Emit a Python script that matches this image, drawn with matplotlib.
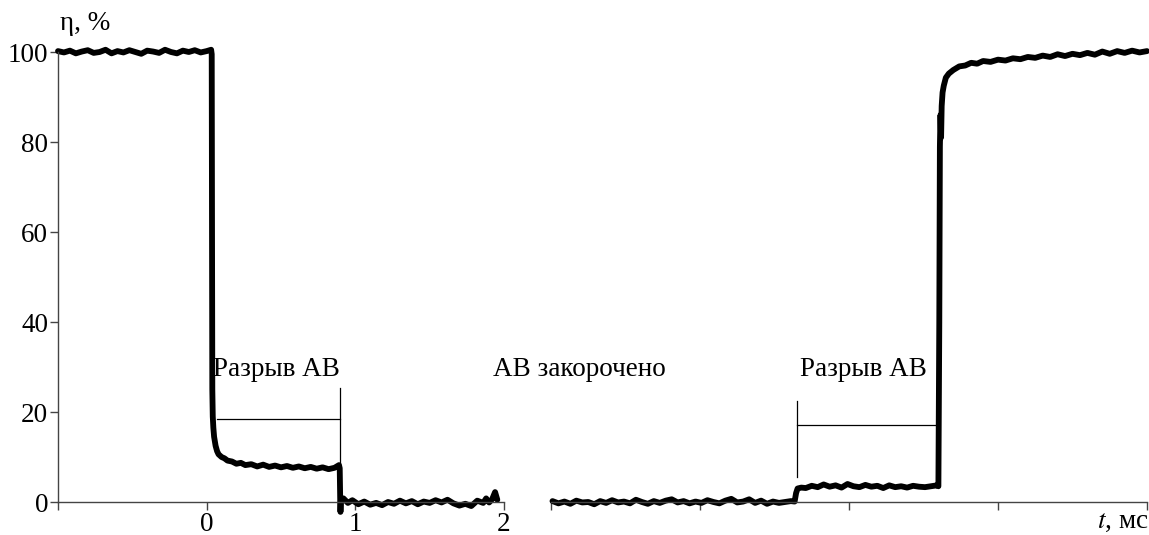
import matplotlib.pyplot as plt

plt.rcParams['font.family'] = ['Liberation Serif', 'DejaVu Serif']

# left part of the record, t in ms
t_left = [-1.00, -0.96, -0.92, -0.88, -0.84, -0.80, -0.76, -0.72, -0.68, -0.64,
          -0.60, -0.56, -0.52, -0.48, -0.44, -0.40, -0.36, -0.32, -0.28, -0.24,
          -0.20, -0.16, -0.12, -0.08, -0.04, 0.00, 0.03, 0.034, 0.036, 0.038,
          0.041, 0.045, 0.05, 0.06, 0.07, 0.08, 0.10, 0.12, 0.14, 0.17,
          0.20, 0.23, 0.26, 0.30, 0.34, 0.38, 0.42, 0.46, 0.50, 0.54,
          0.58, 0.62, 0.66, 0.70, 0.74, 0.78, 0.82, 0.86, 0.89, 0.895,
          0.898, 0.90, 0.903, 0.92, 0.95, 0.98, 1.02, 1.06, 1.10, 1.14,
          1.18, 1.22, 1.26, 1.30, 1.34, 1.38, 1.42, 1.46, 1.50, 1.54,
          1.58, 1.62, 1.66, 1.70, 1.74, 1.78, 1.82, 1.86, 1.88, 1.90,
          1.92, 1.94, 1.955]
eta_left = [100.2, 99.9, 100.3, 99.7, 100.1, 100.4, 99.8, 100.0, 100.5, 99.7,
            100.2, 99.9, 100.4, 100.0, 99.6, 100.3, 100.1, 99.8, 100.5, 100.0,
            99.7, 100.3, 100.0, 100.4, 99.9, 100.2, 100.5, 99.5, 60.0, 25.0,
            19.0, 16.5, 14.5, 12.5, 11.3, 10.6, 10.0, 9.7, 9.2, 9.0,
            8.5, 8.7, 8.2, 8.4, 7.9, 8.3, 7.8, 8.1, 7.7, 8.0,
            7.6, 7.9, 7.5, 7.8, 7.4, 7.7, 7.3, 7.6, 8.2, 7.5,
            1.0, -2.2, 0.5, 0.8, -0.2, 0.4, -0.5, 0.1, -0.6, -0.2,
            -0.7, 0.0, -0.4, 0.3, -0.3, 0.2, -0.5, 0.1, -0.2, 0.4,
            -0.1, 0.5, -0.3, -0.8, -0.4, -0.9, 0.3, -0.2, 0.8, -0.1,
            0.6, 2.2, 0.5]

# right part of the record (after the axis break), local units
t_right = [0.01, 0.05, 0.09, 0.13, 0.17, 0.21, 0.25, 0.29, 0.33, 0.37,
           0.41, 0.45, 0.49, 0.53, 0.57, 0.61, 0.65, 0.69, 0.73, 0.77,
           0.81, 0.85, 0.89, 0.93, 0.97, 1.01, 1.05, 1.09, 1.13, 1.17,
           1.21, 1.25, 1.29, 1.33, 1.37, 1.41, 1.45, 1.49, 1.53, 1.57,
           1.61, 1.635, 1.645, 1.655, 1.68, 1.71, 1.75, 1.79, 1.83, 1.87,
           1.91, 1.95, 1.99, 2.03, 2.07, 2.11, 2.15, 2.19, 2.23, 2.27,
           2.31, 2.35, 2.39, 2.43, 2.47, 2.51, 2.55, 2.59, 2.600, 2.606,
           2.610, 2.614, 2.618, 2.622, 2.628, 2.636, 2.65, 2.67, 2.70, 2.74,
           2.78, 2.82, 2.86, 2.90, 2.95, 3.00, 3.05, 3.10, 3.15, 3.20,
           3.25, 3.30, 3.35, 3.40, 3.45, 3.50, 3.55, 3.60, 3.65, 3.70,
           3.75, 3.80, 3.85, 3.90, 3.95, 4.00]
eta_right = [0.2, -0.3, 0.1, -0.4, 0.3, -0.1, 0.0, -0.5, 0.2, -0.2,
             0.4, -0.1, 0.1, -0.3, 0.5, 0.0, -0.4, 0.2, -0.2, 0.3,
             0.6, -0.1, 0.2, -0.3, 0.1, -0.2, 0.4, 0.0, -0.3, 0.3,
             0.7, -0.1, 0.1, 0.6, -0.2, 0.3, -0.4, 0.1, -0.2, 0.0,
             0.2, 0.1, 2.0, 3.0, 3.2, 3.1, 3.6, 3.3, 3.9, 3.4,
             3.7, 3.2, 4.0, 3.5, 3.3, 3.8, 3.4, 3.6, 3.1, 3.7,
             3.3, 3.5, 3.2, 3.6, 3.4, 3.3, 3.5, 3.7, 3.5, 40.0,
             79.0, 86.0, 81.0, 88.0, 91.0, 92.5, 94.3, 95.2, 96.0, 96.8,
             97.0, 97.6, 97.4, 98.0, 97.8, 98.3, 98.1, 98.6, 98.4, 98.9,
             98.7, 99.2, 98.9, 99.5, 99.1, 99.6, 99.3, 99.8, 99.4, 100.1,
             99.6, 100.2, 99.8, 100.3, 99.9, 100.2]

yticks = [0, 20, 40, 60, 80, 100]
left_xticks = [-1, 0, 1, 2]
left_xlabels = ['', '0', '1', '2']
right_xticks = [0, 1, 2, 3, 4]

fs = 19.5
W, H = 1149, 535
fig = plt.figure(figsize=(W / 100, H / 100), dpi=100)
ax1 = fig.add_axes([58 / W, 33 / H, 446 / W, 450 / H])
ax2 = fig.add_axes([551 / W, 33 / H, 596 / W, 450 / H])

spine_col = '#444444'
for ax in (ax1, ax2):
    ax.set_ylim(0, 100)
    for s in ('top', 'right'):
        ax.spines[s].set_visible(False)
    for s in ('left', 'bottom'):
        ax.spines[s].set_color(spine_col)
        ax.spines[s].set_linewidth(1.0)
    ax.tick_params(direction='out', length=6, width=1.0, color=spine_col,
                   labelsize=fs, pad=1)
    ax.patch.set_visible(False)

ax1.set_xlim(-1, 2)
ax1.set_xticks(left_xticks)
ax1.set_xticklabels(left_xlabels)
ax1.set_yticks(yticks)
ax1.plot(t_left, eta_left, color='black', lw=4.2, clip_on=False,
         solid_joinstyle='round', solid_capstyle='round')

ax2.set_xlim(0, 4)
ax2.set_xticks(right_xticks)
ax2.set_xticklabels([])
ax2.spines['left'].set_visible(False)
ax2.tick_params(axis='y', left=False, labelleft=False)
ax2.plot(t_right, eta_right, color='black', lw=4.2, clip_on=False,
         solid_joinstyle='round', solid_capstyle='round')

# annotations
ax1.text(0.04, 29.5, 'Разрыв АВ', fontsize=fs, ha='left', va='center')
ax1.plot([0.07, 0.897], [18.4, 18.4], color='black', lw=0.9)
ax1.plot([0.897, 0.897], [25.3, 8.0], color='black', lw=0.9)
ax1.text(1.925, 29.5, 'АВ закорочено', fontsize=fs, ha='left', va='center',
         clip_on=False)

ax2.text(1.67, 29.5, 'Разрыв АВ', fontsize=fs, ha='left', va='center')
ax2.plot([1.65, 2.604], [17.1, 17.1], color='black', lw=0.9)
ax2.plot([1.65, 1.65], [22.4, 5.6], color='black', lw=0.9)

fig.text(60 / W, 1 - 24 / H, 'η, %', fontsize=fs, ha='left', va='center')
fig.text(1148 / W, 1 - 521 / H, r'$t$, мс', fontsize=fs, ha='right', va='center',
         math_fontfamily='stix')

fig.savefig('out.png', dpi=100)
